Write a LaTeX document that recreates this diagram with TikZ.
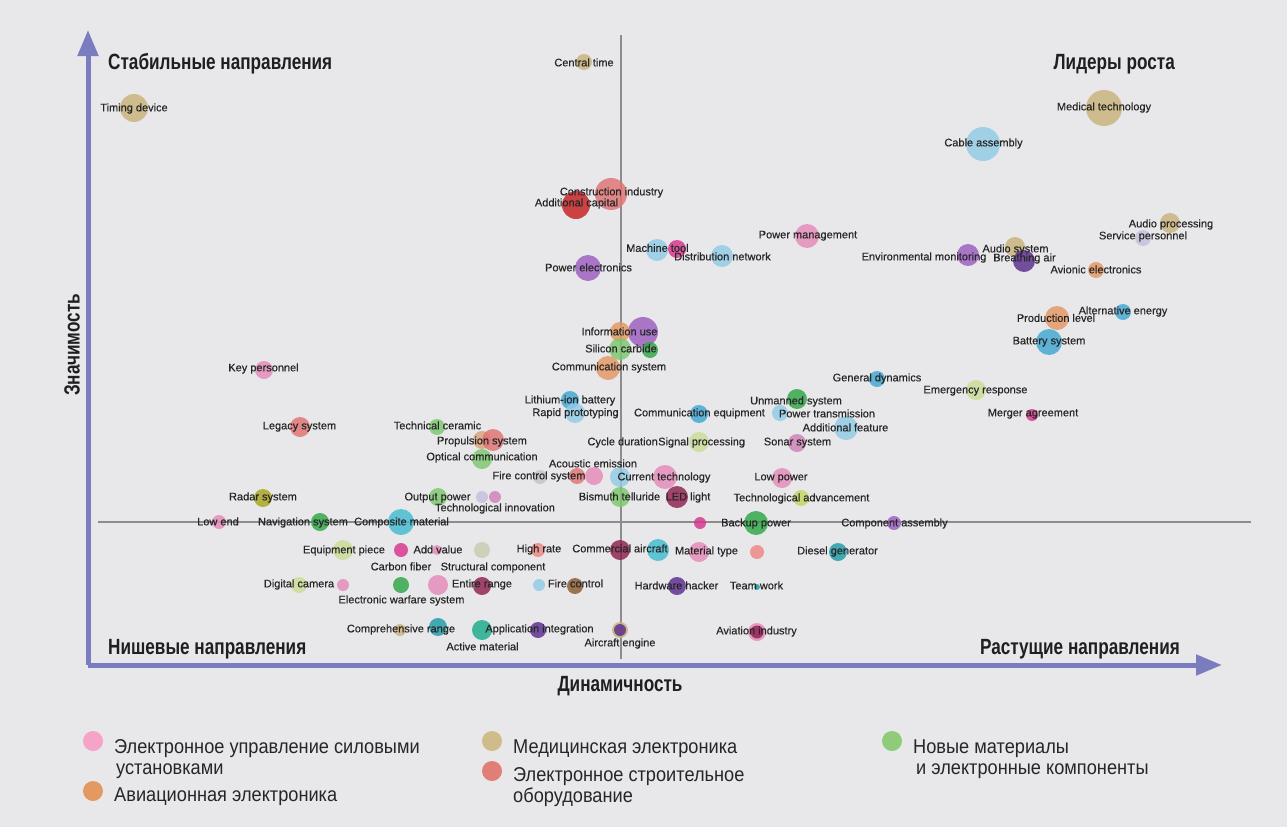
\documentclass[tikz,border=0pt]{standalone}
\usepackage{fontspec}
\setmainfont{Liberation Sans}
\newfontfamily\headfont[FakeStretch=0.78]{Liberation Sans}
\newfontfamily\legfont[FakeStretch=0.91]{Liberation Sans}
\newfontfamily\lblfont[FakeBold=0.35]{Liberation Sans}
\usetikzlibrary{arrows.meta}
\definecolor{bg}{HTML}{E8E8EB}
\definecolor{axc}{HTML}{7B7BBF}
\definecolor{cross}{HTML}{8C8C8C}
\definecolor{cPink}{HTML}{E589B8}
\definecolor{cMagenta}{HTML}{D6348C}
\definecolor{cOrange}{HTML}{E39760}
\definecolor{cTan}{HTML}{C9B27A}
\definecolor{cRed}{HTML}{E07272}
\definecolor{cDRed}{HTML}{C41E1E}
\definecolor{cGreen}{HTML}{7DC86E}
\definecolor{cDGreen}{HTML}{2EA544}
\definecolor{cLBlue}{HTML}{8FCBE6}
\definecolor{cBlue}{HTML}{3FA7D2}
\definecolor{cCyan}{HTML}{42BCD0}
\definecolor{cTeal}{HTML}{1E9CA8}
\definecolor{cPurple}{HTML}{9B5CC0}
\definecolor{cDPurple}{HTML}{5B2D8E}
\definecolor{cMaroon}{HTML}{8E1F4E}
\definecolor{cBrown}{HTML}{8C5A2E}
\definecolor{cOlive}{HTML}{A9A61E}
\definecolor{cYG}{HTML}{CADC96}
\definecolor{cYGb}{HTML}{C0D860}
\definecolor{cLav}{HTML}{C6BEDC}
\definecolor{cGray}{HTML}{C4C4C4}
\definecolor{cSalmon}{HTML}{EE8680}
\definecolor{cTealGreen}{HTML}{1BAA8A}
\definecolor{cGrayGreen}{HTML}{C6CCAE}
\definecolor{cPinkPurple}{HTML}{D080B8}
\definecolor{cOrTan}{HTML}{D9A27C}
\definecolor{lPink}{HTML}{F5A3C7}
\definecolor{lOrange}{HTML}{E39A62}
\definecolor{lTan}{HTML}{D0BC8A}
\definecolor{lRed}{HTML}{E27E78}
\definecolor{lGreen}{HTML}{8FCC7A}
\tikzset{
  bub/.style 2 args={circle, inner sep=0pt, draw=none, fill=#1, fill opacity=0.82, minimum size=#2},
  lbl/.style={font=\lblfont\fontsize{11}{12}\selectfont, inner sep=0pt, text=black!85, text height=8pt, text depth=2.3pt, yshift=-1.5pt},
  head/.style={font=\headfont\bfseries\fontsize{22}{26}\selectfont, inner sep=0pt, text=black!88},
  leg/.style={font=\legfont\fontsize{20}{22}\selectfont, inner sep=0pt, anchor=base west, text=black!85},
  legdot/.style={circle, inner sep=0pt, minimum size=20pt, fill=#1},
  axis/.style={draw=axc, line width=5pt, -{Triangle[length=26pt,width=20pt]}},
  crossline/.style={draw=cross, line width=1.3pt}
}
\begin{document}
\begin{tikzpicture}[x=1pt,y=-1pt]
\fill[bg] (0,0) rectangle (1287,827);
\useasboundingbox (0,0) rectangle (1287,827);
% cross lines
\coordinate (vt) at (621,35);
\coordinate (vb) at (621,659);
\coordinate (hl) at (98,522);
\coordinate (hr) at (1251,522);
\draw[crossline] (vt) -- (vb);
\draw[crossline] (hl) -- (hr);
% axes
\coordinate (O) at (88,665);
\coordinate (Ytip) at (88,30);
\coordinate (Xtip) at (1222,665);
\draw[axis] (O) -- (Ytip);
\draw[axis] (O) -- (Xtip);
% corner labels
\node[head, anchor=base west] (stab) at (108,69) {Стабильные направления};
\node[head, anchor=base east] (lead) at (1175,69) {Лидеры роста};
\node[head, anchor=base west] (nish) at (108,654) {Нишевые направления};
\node[head, anchor=base east] (rast) at (1180,654) {Растущие направления};
\node[head, anchor=base] (dyn) at (620,691) {Динамичность};
\node[head, rotate=90] (sig) at (72,345) {Значимость};
% bubbles
\node[bub={cTan}{16pt}] (b1) at (584,62) {};
\node[bub={cTan}{28pt}] (b2) at (134,108) {};
\node[bub={cTan}{36pt}] (b3) at (1104,108) {};
\node[bub={cLBlue}{34pt}] (b4) at (983,144) {};
\node[bub={cRed}{32pt}] (b5) at (611,194) {};
\node[bub={cDRed}{28pt}] (b6) at (576,205) {};
\node[bub={cTan}{20pt}] (b7) at (1170,223) {};
\node[bub={cLav}{16pt}] (b8) at (1143,238) {};
\node[bub={cPink}{24pt}] (b9) at (807,236) {};
\node[bub={cLBlue}{22pt}] (b10) at (657,250) {};
\node[bub={cMagenta}{18pt}] (b10b) at (677,249) {};
\node[bub={cLBlue}{22pt}] (b11) at (722,256) {};
\node[bub={cPurple}{26pt}] (b12) at (588,268) {};
\node[bub={cPurple}{22pt}] (b13) at (968,255) {};
\node[bub={cTan}{20pt}] (b14) at (1015,247) {};
\node[bub={cDPurple}{22pt}] (b15) at (1024,261) {};
\node[bub={cOrange}{16pt}] (b16) at (1096,270) {};
\node[bub={cBlue}{16pt}] (b17) at (1123,312) {};
\node[bub={cOrange}{24pt}] (b18) at (1057,318) {};
\node[bub={cBlue}{26pt}] (b19) at (1049,342) {};
\node[bub={cPurple}{30pt}] (b20b) at (643,332) {};
\node[bub={cOrange}{20pt}] (b20) at (620,332) {};
\node[bub={cGreen}{22pt}] (b21) at (620,349) {};
\node[bub={cDGreen}{16pt}] (b21b) at (650,350) {};
\node[bub={cOrange}{24pt}] (b22) at (608,368) {};
\node[bub={cPink}{18pt}] (b23) at (264,370) {};
\node[bub={cBlue}{18pt}] (b24) at (570,400) {};
\node[bub={cLBlue}{20pt}] (b25) at (575,413) {};
\node[bub={cBlue}{18pt}] (b26) at (699,414) {};
\node[bub={cDGreen}{20pt}] (b27) at (797,399) {};
\node[bub={cLBlue}{16pt}] (b28) at (780,413) {};
\node[bub={cLBlue}{24pt}] (b29) at (846,428) {};
\node[bub={cBlue}{16pt}] (b30) at (877,379) {};
\node[bub={cYG}{20pt}] (b31) at (976,390) {};
\node[bub={cMagenta}{12pt}] (b32) at (1032,415) {};
\node[bub={cRed}{20pt}] (b33) at (300,427) {};
\node[bub={cGreen}{16pt}] (b34) at (437,427) {};
\node[bub={cOrTan}{18pt}] (b35) at (482,440) {};
\node[bub={cRed}{22pt}] (b35b) at (493,440) {};
\node[bub={cGreen}{20pt}] (b36) at (482,459) {};
\node[bub={cYG}{20pt}] (b37) at (699,442) {};
\node[bub={cPinkPurple}{18pt}] (b38) at (797,443) {};
\node[bub={cGray}{14pt}] (b40) at (540,477) {};
\node[bub={cRed}{16pt}] (b40b) at (577,476) {};
\node[bub={cPink}{18pt}] (b40c) at (594,476) {};
\node[bub={cLBlue}{20pt}] (b41) at (620,477) {};
\node[bub={cPink}{24pt}] (b41b) at (665,477) {};
\node[bub={cPink}{20pt}] (b42) at (782,478) {};
\node[bub={cGreen}{18pt}] (b43) at (438,497) {};
\node[bub={cLav}{12pt}] (b43b) at (482,497) {};
\node[bub={cPinkPurple}{12pt}] (b43c) at (495,497) {};
\node[bub={cGreen}{20pt}] (b45) at (620,497) {};
\node[bub={cMaroon}{22pt}] (b46) at (677,497) {};
\node[bub={cYGb}{16pt}] (b47) at (801,498) {};
\node[bub={cOlive}{18pt}] (b48) at (263,498) {};
\node[bub={cPink}{14pt}] (b49) at (219,522) {};
\node[bub={cDGreen}{18pt}] (b50) at (320,522) {};
\node[bub={cCyan}{26pt}] (b51) at (401,522) {};
\node[bub={cDGreen}{24pt}] (b52) at (756,523) {};
\node[bub={cMagenta}{12pt}] (b52b) at (700,523) {};
\node[bub={cPurple}{14pt}] (b53) at (894,523) {};
\node[bub={cYG}{20pt}] (b54) at (343,550) {};
\node[bub={cMagenta}{14pt}] (b55) at (401,550) {};
\node[bub={cPink}{10pt}] (b55b) at (437,550) {};
\node[bub={cGrayGreen}{16pt}] (b56) at (482,550) {};
\node[bub={cSalmon}{14pt}] (b57) at (538,550) {};
\node[bub={cMaroon}{20pt}] (b58) at (620,550) {};
\node[bub={cCyan}{22pt}] (b58b) at (658,550) {};
\node[bub={cPink}{20pt}] (b59) at (699,552) {};
\node[bub={cSalmon}{14pt}] (b60) at (757,552) {};
\node[bub={cTeal}{18pt}] (b61) at (838,552) {};
\node[bub={cYG}{16pt}] (b64) at (299,585) {};
\node[bub={cPink}{12pt}] (b64b) at (343,585) {};
\node[bub={cDGreen}{16pt}] (b65) at (401,585) {};
\node[bub={cPink}{20pt}] (b65b) at (438,585) {};
\node[bub={cMaroon}{18pt}] (b66) at (482,586) {};
\node[bub={cLBlue}{12pt}] (b67) at (539,585) {};
\node[bub={cBrown}{16pt}] (b67b) at (575,586) {};
\node[bub={cDPurple}{18pt}] (b68) at (677,586) {};
\node[bub={cTeal}{6pt}] (b69) at (757,587) {};
\node[bub={cTan}{12pt}] (b71) at (400,630) {};
\node[bub={cTeal}{18pt}] (b71b) at (438,627) {};
\node[bub={cTealGreen}{20pt}] (b72) at (482,630) {};
\node[bub={cDPurple}{16pt}] (b72b) at (538,630) {};
\node[bub={cTan}{16pt}] (b73r) at (620,630) {};
\node[bub={cDPurple}{12pt}] (b73) at (620,630) {};
\node[bub={cPink}{18pt}] (b75r) at (757,632) {};
\node[bub={cMaroon}{13pt}] (b75) at (757,632) {};
% labels
\node[lbl] (l1) at (584,62) {Central time};
\node[lbl] (l2) at (134,107) {Timing device};
\node[lbl] (l3) at (1104,106) {Medical technology};
\node[lbl] (l4) at (983.5,142) {Cable assembly};
\node[lbl] (l5) at (611.5,191) {Construction industry};
\node[lbl] (l6) at (576.5,202) {Additional capital};
\node[lbl] (l7) at (1171,223) {Audio processing};
\node[lbl] (l8) at (1143,235) {Service personnel};
\node[lbl] (l9) at (808,234) {Power management};
\node[lbl, anchor=west] (l10) at (626,247.5) {Machine tool};
\node[lbl] (l11) at (722.5,256) {Distribution network};
\node[lbl] (l12) at (588.5,267) {Power electronics};
\node[lbl] (l13) at (924,256) {Environmental monitoring};
\node[lbl] (l14) at (1015.5,248) {Audio system};
\node[lbl] (l15) at (1024.5,257) {Breathing air};
\node[lbl] (l16) at (1096,269) {Avionic electronics};
\node[lbl] (l17) at (1123,310) {Alternative energy};
\node[lbl] (l18) at (1056,317.5) {Production level};
\node[lbl] (l19) at (1049,340) {Battery system};
\node[lbl] (l20) at (619.5,331) {Information use};
\node[lbl] (l21) at (621,348) {Silicon carbide};
\node[lbl] (l22) at (609,366) {Communication system};
\node[lbl] (l23) at (263.5,367) {Key personnel};
\node[lbl] (l24) at (570,399) {Lithium-ion battery};
\node[lbl] (l25) at (575.5,411.7) {Rapid prototyping};
\node[lbl] (l26) at (699.5,412) {Communication equipment};
\node[lbl] (l27) at (796,400) {Unmanned system};
\node[lbl] (l28) at (827,413) {Power transmission};
\node[lbl] (l29) at (845.5,427) {Additional feature};
\node[lbl] (l30) at (877,377) {General dynamics};
\node[lbl] (l31) at (975.5,389) {Emergency response};
\node[lbl] (l32) at (1033,412) {Merger agreement};
\node[lbl] (l33) at (299.5,425) {Legacy system};
\node[lbl] (l34) at (437.5,425) {Technical ceramic};
\node[lbl] (l35) at (482,440) {Propulsion system};
\node[lbl] (l36) at (482,456) {Optical communication};
\node[lbl, anchor=east] (l37a) at (658,441) {Cycle duration};
\node[lbl, anchor=west] (l37) at (658,441) {Signal processing};
\node[lbl] (l38) at (797.5,441) {Sonar system};
\node[lbl] (l39) at (593,463) {Acoustic emission};
\node[lbl] (l40) at (539,475) {Fire control system};
\node[lbl] (l41) at (664,476) {Current technology};
\node[lbl] (l42) at (781,476) {Low power};
\node[lbl] (l43) at (437.5,496) {Output power};
\node[lbl] (l44) at (495,507) {Technological innovation};
\node[lbl] (l45) at (619.5,496) {Bismuth telluride};
\node[lbl] (l46) at (688,496) {LED light};
\node[lbl] (l47) at (801.5,497) {Technological advancement};
\node[lbl] (l48) at (263,496) {Radar system};
\node[lbl] (l49) at (218,521) {Low end};
\node[lbl] (l50) at (303,521) {Navigation system};
\node[lbl] (l51) at (401.5,521) {Composite material};
\node[lbl] (l52) at (756,522) {Backup power};
\node[lbl] (l53) at (894.5,522) {Component assembly};
\node[lbl] (l54) at (344,549) {Equipment piece};
\node[lbl] (l55) at (438,549) {Add value};
\node[lbl] (l57) at (539,548) {High rate};
\node[lbl] (l58) at (620,548) {Commercial aircraft};
\node[lbl] (l59) at (706.5,550) {Material type};
\node[lbl] (l61) at (837.5,550) {Diesel generator};
\node[lbl] (l62) at (401,566) {Carbon fiber};
\node[lbl] (l63) at (493,566) {Structural component};
\node[lbl] (l64) at (299,583) {Digital camera};
\node[lbl] (l66) at (482,583) {Entire range};
\node[lbl] (l67) at (575.5,583) {Fire control};
\node[lbl] (l68) at (676.5,585) {Hardware hacker};
\node[lbl] (l69) at (756.5,585) {Team work};
\node[lbl] (l70) at (401.5,599) {Electronic warfare system};
\node[lbl] (l71) at (401,628) {Comprehensive range};
\node[lbl] (l72) at (539.5,628) {Application integration};
\node[lbl] (l73) at (620,642) {Aircraft engine};
\node[lbl] (l74) at (482.5,646) {Active material};
\node[lbl] (l75) at (756.5,630) {Aviation industry};
% legend
\node[legdot=lPink] (d1) at (93,741) {};
\node[leg] (t1a) at (114,753) {Электронное управление силовыми};
\node[leg] (t1b) at (116,774) {установками};
\node[legdot=lOrange] (d2) at (93,791) {};
\node[leg] (t2) at (114,801) {Авиационная электроника};
\node[legdot=lTan] (d3) at (492,741) {};
\node[leg] (t3) at (513,753) {Медицинская электроника};
\node[legdot=lRed] (d4) at (492,771) {};
\node[leg] (t4a) at (513,781) {Электронное строительное};
\node[leg] (t4b) at (513,802) {оборудование};
\node[legdot=lGreen] (d5) at (892,741) {};
\node[leg] (t5a) at (913,753) {Новые материалы};
\node[leg] (t5b) at (916,774) {и электронные компоненты};
\end{tikzpicture}
\end{document}
